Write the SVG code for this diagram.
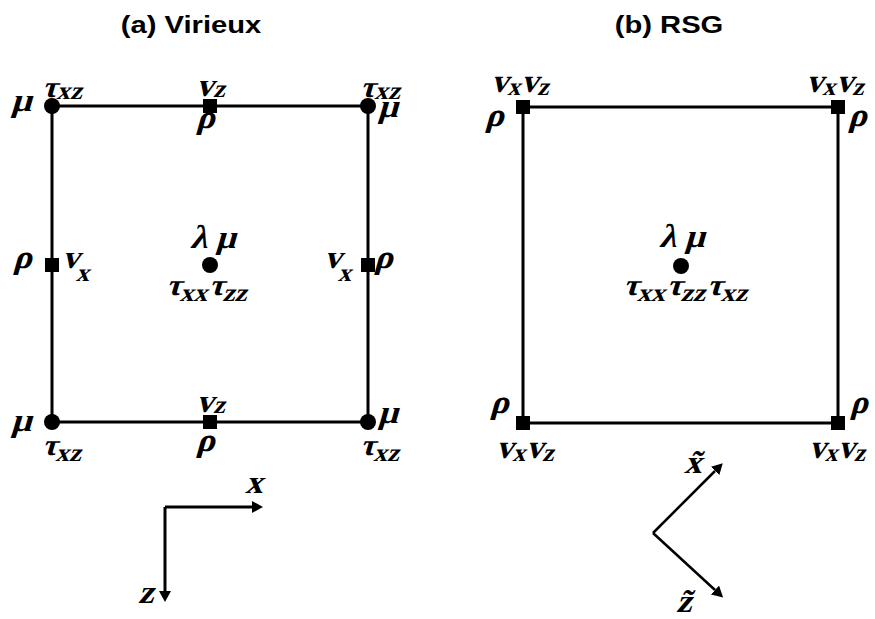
<svg xmlns="http://www.w3.org/2000/svg" width="875" height="619" viewBox="0 0 875 619">
<defs>
<style>
.bg{fill:#fff}
.edge{stroke:#000;stroke-width:3;fill:none}
.ax{stroke:#000;stroke-width:3;fill:none}
.dot{fill:#000}
.sq{fill:#000}
.tau{font-size:30px}
.sb{font-size:25px}
</style>
<marker id="ah" markerUnits="userSpaceOnUse" markerWidth="12" markerHeight="12" refX="0" refY="6" orient="auto" viewBox="0 0 12 12">
<path d="M0,0 L11,6 L0,12 Z" fill="#000"/>
</marker>
</defs>
<rect class="bg" x="0" y="0" width="875" height="619"/>

<g font-family="Liberation Sans, Arial, sans-serif" font-weight="bold" font-size="23" text-anchor="middle" fill="#000">
<text transform="translate(191 33) scale(1.27 1)">(a) Virieux</text>
<text transform="translate(669 33) scale(1.27 1)">(b) RSG</text>
</g>

<g id="connectors">
<path class="edge" d="M52,106 H368 V422 H52 Z"/>
<path class="edge" d="M523,107 H838 V423 H523 Z"/>
<path class="ax" d="M165,507 H252" marker-end="url(#ah)"/>
<path class="ax" d="M165,507 V591" marker-end="url(#ah)"/>
<path class="ax" d="M653,533 L715,471" marker-end="url(#ah)" style="stroke-width:2.5"/>
<path class="ax" d="M653,533 L715,590" marker-end="url(#ah)" style="stroke-width:2.5"/>
</g>

<g font-family="Liberation Serif, serif" font-weight="700" font-style="normal" font-size="33" fill="#000">
<!-- Virieux grid -->
<g id="a-tl">
<circle class="dot" cx="52" cy="106" r="8"/>
<text transform="translate(42 97) scale(1.08 1) skewX(-15)"><tspan class="tau">τ</tspan><tspan class="sb" dy="2">xz</tspan></text>
<text transform="translate(11 111) scale(1.08 1) skewX(-15)">μ</text>
</g>
<g id="a-t">
<rect class="sq" x="203" y="99" width="14" height="14"/>
<text transform="translate(196 96) scale(1.05 1) skewX(-15)">v<tspan class="sb" dy="1">z</tspan></text>
<text transform="translate(196 128) scale(1.05 1) skewX(-15)">ρ</text>
</g>
<g id="a-tr">
<circle class="dot" cx="368" cy="106" r="8"/>
<text transform="translate(360 97) scale(1.08 1) skewX(-15)"><tspan class="tau">τ</tspan><tspan class="sb" dy="2">xz</tspan></text>
<text transform="translate(378 117) scale(1.05 1) skewX(-15)">μ</text>
</g>
<g id="a-l">
<rect class="sq" x="45" y="258" width="14" height="14"/>
<text transform="translate(13 268) scale(1.05 1) skewX(-15)">ρ</text>
<text transform="translate(62 268) scale(1.05 1) skewX(-15)">v<tspan class="sb" dy="13">x</tspan></text>
</g>
<g id="a-c">
<circle class="dot" cx="210" cy="265" r="8"/>
<text transform="translate(190 248) scale(1.05 1) skewX(-15)">λ μ</text>
<text transform="translate(166 295) scale(1.1 1) skewX(-15)"><tspan class="tau">τ</tspan><tspan class="sb" dy="6">xx</tspan><tspan class="tau" dy="-6">τ</tspan><tspan class="sb" dy="6">zz</tspan></text>
</g>
<g id="a-r">
<rect class="sq" x="361" y="258" width="14" height="14"/>
<text transform="translate(324 268) scale(1.05 1) skewX(-15)">v<tspan class="sb" dy="13">x</tspan></text>
<text transform="translate(374 268) scale(1.05 1) skewX(-15)">ρ</text>
</g>
<g id="a-bl">
<circle class="dot" cx="52" cy="422" r="8"/>
<text transform="translate(11 431) scale(1.08 1) skewX(-15)">μ</text>
<text transform="translate(42 455) scale(1.08 1) skewX(-15)"><tspan class="tau">τ</tspan><tspan class="sb" dy="6">xz</tspan></text>
</g>
<g id="a-b">
<rect class="sq" x="203" y="415" width="14" height="14"/>
<text transform="translate(196 412) scale(1.05 1) skewX(-15)">v<tspan class="sb" dy="1">z</tspan></text>
<text transform="translate(196 451) scale(1.05 1) skewX(-15)">ρ</text>
</g>
<g id="a-br">
<circle class="dot" cx="368" cy="422" r="8"/>
<text transform="translate(378 423) scale(1.05 1) skewX(-15)">μ</text>
<text transform="translate(360 455) scale(1.08 1) skewX(-15)"><tspan class="tau">τ</tspan><tspan class="sb" dy="6">xz</tspan></text>
</g>

<!-- RSG grid -->
<g id="b-tl">
<rect class="sq" x="516" y="100" width="14" height="14"/>
<text transform="translate(491 92) scale(1.03 1) skewX(-15)">v<tspan class="sb" dy="3">x</tspan><tspan dy="-3">v</tspan><tspan class="sb" dy="3">z</tspan></text>
<text transform="translate(485 126) scale(1.05 1) skewX(-15)">ρ</text>
</g>
<g id="b-tr">
<rect class="sq" x="831" y="100" width="14" height="14"/>
<text transform="translate(806 92) scale(1.03 1) skewX(-15)">v<tspan class="sb" dy="3">x</tspan><tspan dy="-3">v</tspan><tspan class="sb" dy="3">z</tspan></text>
<text transform="translate(848 126) scale(1.05 1) skewX(-15)">ρ</text>
</g>
<g id="b-c">
<circle class="dot" cx="681" cy="266" r="8"/>
<text transform="translate(659 247) scale(1.05 1) skewX(-15)">λ μ</text>
<text transform="translate(623 295) scale(1.12 1) skewX(-15)"><tspan class="tau">τ</tspan><tspan class="sb" dy="6">xx</tspan><tspan class="tau" dy="-6">τ</tspan><tspan class="sb" dy="6">zz</tspan><tspan class="tau" dy="-6">τ</tspan><tspan class="sb" dy="6">xz</tspan></text>
</g>
<g id="b-bl">
<rect class="sq" x="516" y="416" width="14" height="14"/>
<text transform="translate(490 413) scale(1.05 1) skewX(-15)">ρ</text>
<text transform="translate(496 458) scale(1.03 1) skewX(-15)">v<tspan class="sb" dy="3">x</tspan><tspan dy="-3">v</tspan><tspan class="sb" dy="3">z</tspan></text>
</g>
<g id="b-br">
<rect class="sq" x="831" y="416" width="14" height="14"/>
<text transform="translate(850 413) scale(1.0 1) skewX(-15)">ρ</text>
<text transform="translate(809 458) scale(1.0 1) skewX(-15)">v<tspan class="sb" dy="3">x</tspan><tspan dy="-3">v</tspan><tspan class="sb" dy="3">z</tspan></text>
</g>

<!-- axis labels -->
<g id="axis-a">
<text transform="translate(245 493) scale(1.05 1) skewX(-15)">x</text>
<text transform="translate(138 603) scale(1.05 1) skewX(-15)">z</text>
</g>
<g id="axis-b">
<text transform="translate(684 473) scale(1.05 1) skewX(-15)">x̃</text>
<text transform="translate(676 612) scale(1.05 1) skewX(-15)">z̃</text>
</g>
</g>
</svg>
